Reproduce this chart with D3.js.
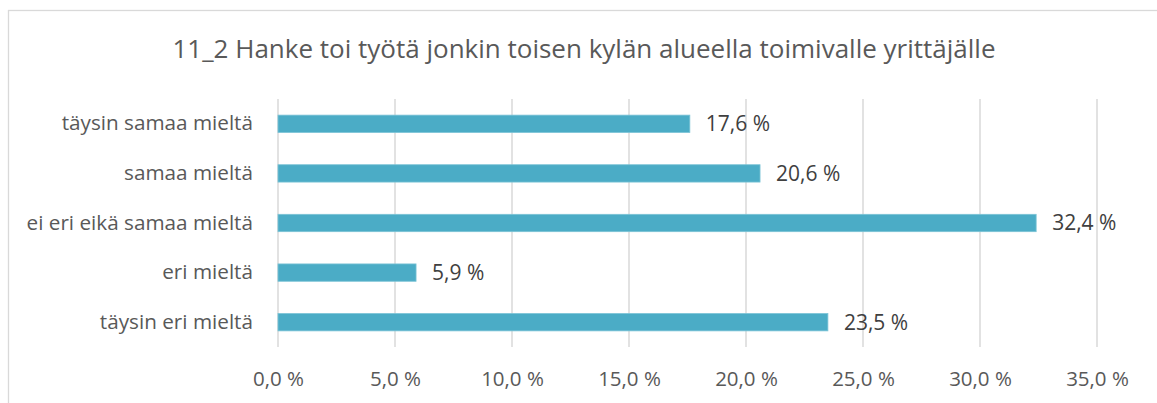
<!DOCTYPE html>
<html>
<head>
<meta charset="utf-8">
<script src="https://cdn.jsdelivr.net/npm/d3@7"></script>
<style>
  html, body { margin: 0; padding: 0; background: #fff; }
  svg { display: block; font-family: "Open Sans", sans-serif; }
</style>
</head>
<body>
<svg id="chart" width="1157" height="403"></svg>
<script>
// Survey answers (share of respondents, %)
const categories = [
  "täysin samaa mieltä",
  "samaa mieltä",
  "ei eri eikä samaa mieltä",
  "eri mieltä",
  "täysin eri mieltä"
];
const values = [17.6, 20.6, 32.4, 5.9, 23.5];
const tickValues = [0, 5, 10, 15, 20, 25, 30, 35];
const title = "11_2 Hanke toi työtä jonkin toisen kylän alueella toimivalle yrittäjälle";

const fmt = v => v.toFixed(1).replace(".", ",") + " %";

const svg = d3.select("#chart");

// chart frame
svg.append("rect")
  .attr("x", 8.5).attr("y", 10.5)
  .attr("width", 1200).attr("height", 500)
  .attr("fill", "#fff")
  .attr("stroke", "#d9d9d9")
  .attr("stroke-width", 1.3);

const x = d3.scaleLinear().domain([0, 35]).range([278, 1097]);
const y = d3.scaleBand().domain(categories)
  .range([99, 347])
  .paddingInner(0.65)
  .paddingOuter(0.325);

// title
svg.append("text")
  .attr("x", 584).attr("y", 58)
  .attr("text-anchor", "middle")
  .attr("fill", "#595959")
  .attr("font-size", 26)
  .text(title);

// vertical gridlines
svg.append("g")
  .selectAll("line")
  .data(tickValues)
  .join("line")
  .attr("x1", d => x(d)).attr("x2", d => x(d))
  .attr("y1", 99).attr("y2", 347)
  .attr("stroke", "#d9d9d9")
  .attr("stroke-width", 1.5);

// x axis tick labels
const xAxis = d3.axisBottom(x).tickValues(tickValues).tickFormat(fmt).tickSize(0).tickPadding(0);
const gx = svg.append("g").attr("transform", "translate(0,371)").call(xAxis);
gx.select(".domain").remove();
gx.selectAll("text")
  .attr("fill", "#595959")
  .attr("font-size", 20.5)
  .attr("font-family", "'Open Sans', sans-serif")
  .attr("dy", "0.75em");

// category labels
const yAxis = d3.axisLeft(y).tickSize(0).tickPadding(0);
const gy = svg.append("g").attr("transform", "translate(253,0)").call(yAxis);
gy.select(".domain").remove();
gy.selectAll("text")
  .attr("fill", "#595959")
  .attr("font-size", 20.7)
  .attr("font-family", "'Open Sans', sans-serif");

// bars
svg.append("g")
  .selectAll("rect")
  .data(values)
  .join("rect")
  .attr("x", x(0))
  .attr("y", (d, i) => y(categories[i]))
  .attr("width", d => x(d) - x(0))
  .attr("height", y.bandwidth())
  .attr("fill", "#4bacc6")
  .attr("stroke", "#7cc4d6")
  .attr("stroke-width", 0.8);

// value labels
svg.append("g")
  .selectAll("text")
  .data(values)
  .join("text")
  .attr("x", d => x(d) + 16)
  .attr("y", (d, i) => y(categories[i]) + y.bandwidth() / 2)
  .attr("dy", "0.35em")
  .attr("fill", "#404040")
  .attr("font-size", 21)
  .text(fmt);
</script>
</body>
</html>
